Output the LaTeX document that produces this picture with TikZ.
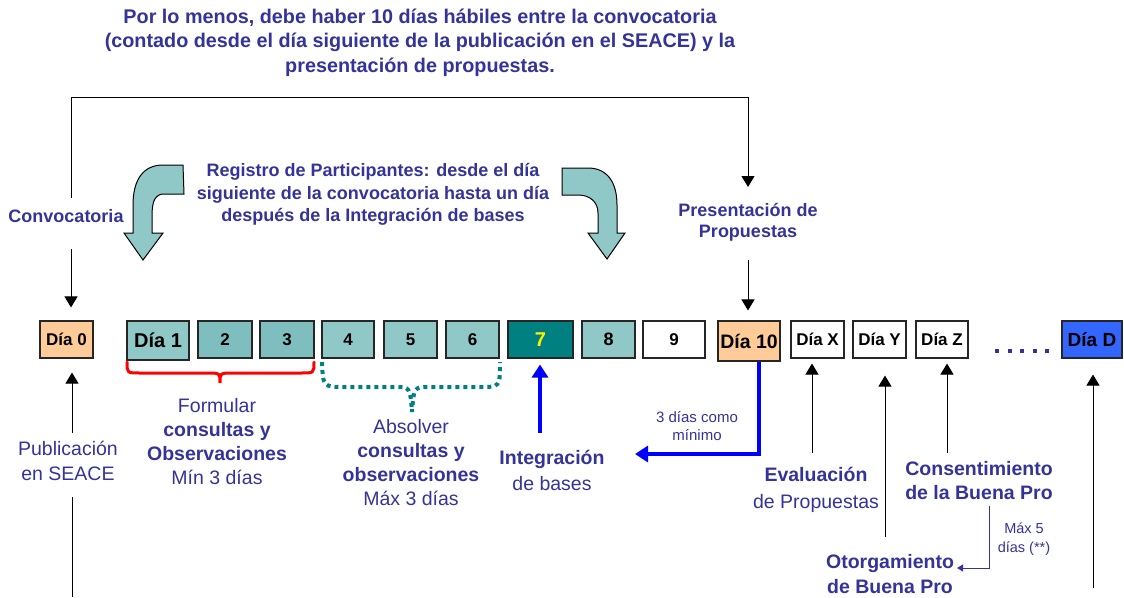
\documentclass[tikz,border=0pt]{standalone}
\usepackage{fontspec}
\setmainfont{Liberation Sans}
\usetikzlibrary{arrows.meta,calc}
\definecolor{tblue}{RGB}{51,51,153}
\definecolor{peach}{RGB}{255,204,153}
\definecolor{lteal}{RGB}{143,200,198}
\definecolor{mteal}{RGB}{127,190,190}
\definecolor{dteal}{RGB}{0,128,128}
\definecolor{dblue}{RGB}{51,102,255}
\newcommand\myfs[2]{\fontsize{#1}{#2}\selectfont}
\begin{document}
\begin{tikzpicture}[x=1pt,y=-1pt,
  daybox/.style={draw=black!85, line width=1.1pt, minimum height=37pt, inner sep=0pt, font=\bfseries\myfs{17}{20}},
  lbl/.style={text=tblue, align=center, inner sep=0pt},
  ln/.style={draw=black, line width=1pt},
  arr/.style={draw=black, line width=1pt, -{Triangle[width=13pt,length=11pt]}},
  barr/.style={draw=blue, line width=4.5pt, -{Triangle[width=16pt,length=13pt]}},
  sarr/.style={draw=tblue, line width=0.9pt, -{Triangle[width=7pt,length=6pt]}},
  curvarrow/.style={fill=lteal, draw=black, line width=1pt, line join=miter}
]
\useasboundingbox (0,0) rectangle (1124,597);

% title
\node[lbl, font=\bfseries\myfs{19.8}{24.5}] (title) at (420,42.5)
 {Por lo menos, debe haber 10 días hábiles entre la convocatoria\\(contado desde el día siguiente de la publicación en el SEACE) y la\\presentación de propuestas.};

% upper labels
\node[lbl, font=\bfseries\myfs{18}{22}] (conv) at (66,216) {Convocatoria};
\node[lbl, font=\bfseries\myfs{18}{21}] (pres) at (748,222) {Presentación de\\Propuestas};
\node[lbl, font=\bfseries\myfs{18}{22.5}] (reg) at (373,194.5)
 {Registro de Participantes: desde el día\\siguiente de la convocatoria hasta un día\\después de la Integración de bases};

% curved block arrows
\path[curvarrow] (183,165) -- (184,194) -- (162,194)
  .. controls (153,196) and (152,205) .. (152,218) -- (152,233) -- (163,233) -- (143,260) -- (124,233) -- (133,233) -- (133,205)
  .. controls (133,180) and (143,165) .. (163,165) -- cycle;
\path[curvarrow] (562,168) -- (588,168)
  .. controls (607,168) and (617,182) .. (617,205) -- (617,233) -- (625,233) -- (607,259) -- (588,233) -- (598,233) -- (598,213)
  .. controls (598,202) and (590,195) .. (578,195) -- (562,195) -- cycle;

% day boxes
\node[daybox, fill=peach, minimum width=53pt] (d0) at (66.5,339.5) {Día 0};
\node[daybox, fill=lteal, minimum width=62pt, minimum height=39pt, font=\bfseries\myfs{20}{22}] (d1) at (158,340.5) {Día 1};
\node[daybox, fill=mteal, minimum width=54pt] (d2) at (225,339.5) {2};
\node[daybox, fill=mteal, minimum width=54pt] (d3) at (287,339.5) {3};
\node[daybox, fill=lteal, minimum width=52pt] (d4) at (348,339.5) {4};
\node[daybox, fill=lteal, minimum width=53pt] (d5) at (410.5,339.5) {5};
\node[daybox, fill=lteal, minimum width=53pt] (d6) at (472.5,339.5) {6};
\node[daybox, fill=dteal, minimum width=65pt, text=yellow, font=\bfseries\myfs{20}{22}] (d7) at (540.5,339.5) {7};
\node[daybox, fill=lteal, minimum width=53pt, font=\bfseries\myfs{18}{20}] (d8) at (608.5,339.5) {8};
\node[daybox, fill=white, minimum width=62pt] (d9) at (674,339.5) {9};
\node[daybox, fill=peach, minimum width=62pt, minimum height=40pt, font=\bfseries\myfs{19.5}{22}] (d10) at (749,341) {Día 10};
\node[daybox, fill=white, minimum width=53pt] (dX) at (817.5,339.5) {Día X};
\node[daybox, fill=white, minimum width=53pt] (dY) at (879.5,339.5) {Día Y};
\node[daybox, fill=white, minimum width=52pt] (dZ) at (942,339.5) {Día Z};
\node[daybox, fill=dblue, minimum width=60pt, font=\bfseries\myfs{19}{21}] (dD) at (1092,339.5) {Día D};
\draw[tblue, line width=4pt, dash pattern=on 4pt off 8.5pt] (995,351) -- (1049,351);

% braces
\draw[red, line width=3pt, line cap=round] (127,362) .. controls (127,373) .. (140,373) -- (207,373)
  .. controls (220,373) .. (220,383) .. controls (220,373) .. (233,373) -- (301,373) .. controls (314,373) .. (314,362);
\draw[dteal, line width=4pt, dash pattern=on 4pt off 4pt] (322,362) .. controls (323,387) .. (345,387) -- (395,387)
  .. controls (410,387) .. (412,412) .. controls (414,387) .. (429,387) -- (480,387) .. controls (500,387) .. (500,362);

% lower labels
\node[lbl, font=\myfs{19.5}{24}] (form) at (217,442) {Formular\\\textbf{consultas y}\\\textbf{Observaciones}\\Mín 3 días};
\node[lbl, font=\myfs{19.5}{23.7}] (abs) at (411,462.5) {Absolver\\\textbf{consultas y}\\\textbf{observaciones}\\Máx 3 días};
\node[lbl, font=\myfs{19.5}{25}] (pub) at (68,460.5) {Publicación\\en SEACE};
\node[lbl, font=\myfs{19.5}{26}] (integ) at (552,470) {\textbf{Integración}\\de bases};
\node[lbl, font=\myfs{15}{18}] (tres) at (697,426) {3 días como\\mínimo};
\node[lbl, font=\myfs{19.5}{27}] (eval) at (816,490) {\textbf{Evaluación}\\de Propuestas};
\node[lbl, font=\bfseries\myfs{19.5}{24}] (cons) at (979,481) {Consentimiento\\de la Buena Pro};
\node[lbl, font=\bfseries\myfs{19.5}{25}] (otor) at (890,574.5) {Otorgamiento\\de Buena Pro};
\node[lbl, font=\myfs{14.5}{19}] (max5) at (1024,539.5) {Máx 5\\días (**)};

% coordinates
\coordinate (tl) at (71,97);
\coordinate (tr) at (748,97);
\coordinate (tlb) at (71,198);
\coordinate (c0a) at (71,249);
\coordinate (c0b) at (72,433);
\coordinate (c0c) at (72,497);
\coordinate (c0d) at (72,597);
\coordinate (pa) at (748,187);
\coordinate (pb) at (748,260);
\coordinate (bi) at (540,433);
\coordinate (bl1) at (759,454);
\coordinate (bl2) at (635,454);
\coordinate (ex) at (812,453);
\coordinate (oy) at (885,537);
\coordinate (cz) at (947,453);
\coordinate (dd) at (1093,588);
\coordinate (s1) at (989,506);
\coordinate (s2) at (989,568);
\coordinate (s3) at (957,568);

% connectors
\draw[ln] (tlb) -- (tl) -- (tr);
\draw[arr] (tr) -- (pa);
\draw[arr, shorten >=13pt] (c0a) -- (c0a |- d0.north);
\draw[arr, shorten >=14pt] (c0b) -- (c0b |- d0.south);
\draw[ln] (c0c) -- (c0d);
\draw[arr, shorten >=10pt] (pb) -- (pb |- d10.north);
\draw[barr, shorten >=6pt] (bi) -- (bi |- d7.south);
\draw[barr, line width=4pt] (bl1 |- d10.south) -- (bl1) -- (bl2);
\draw[arr, shorten >=5pt] (ex) -- (ex |- dX.south);
\draw[arr, shorten >=17pt] (oy) -- (oy |- dY.south);
\draw[arr, shorten >=5pt] (cz) -- (cz |- dZ.south);
\draw[arr, shorten >=16pt] (dd) -- (dd |- dD.south);
\draw[sarr] (s1) -- (s2) -- (s3);
\end{tikzpicture}
\end{document}
